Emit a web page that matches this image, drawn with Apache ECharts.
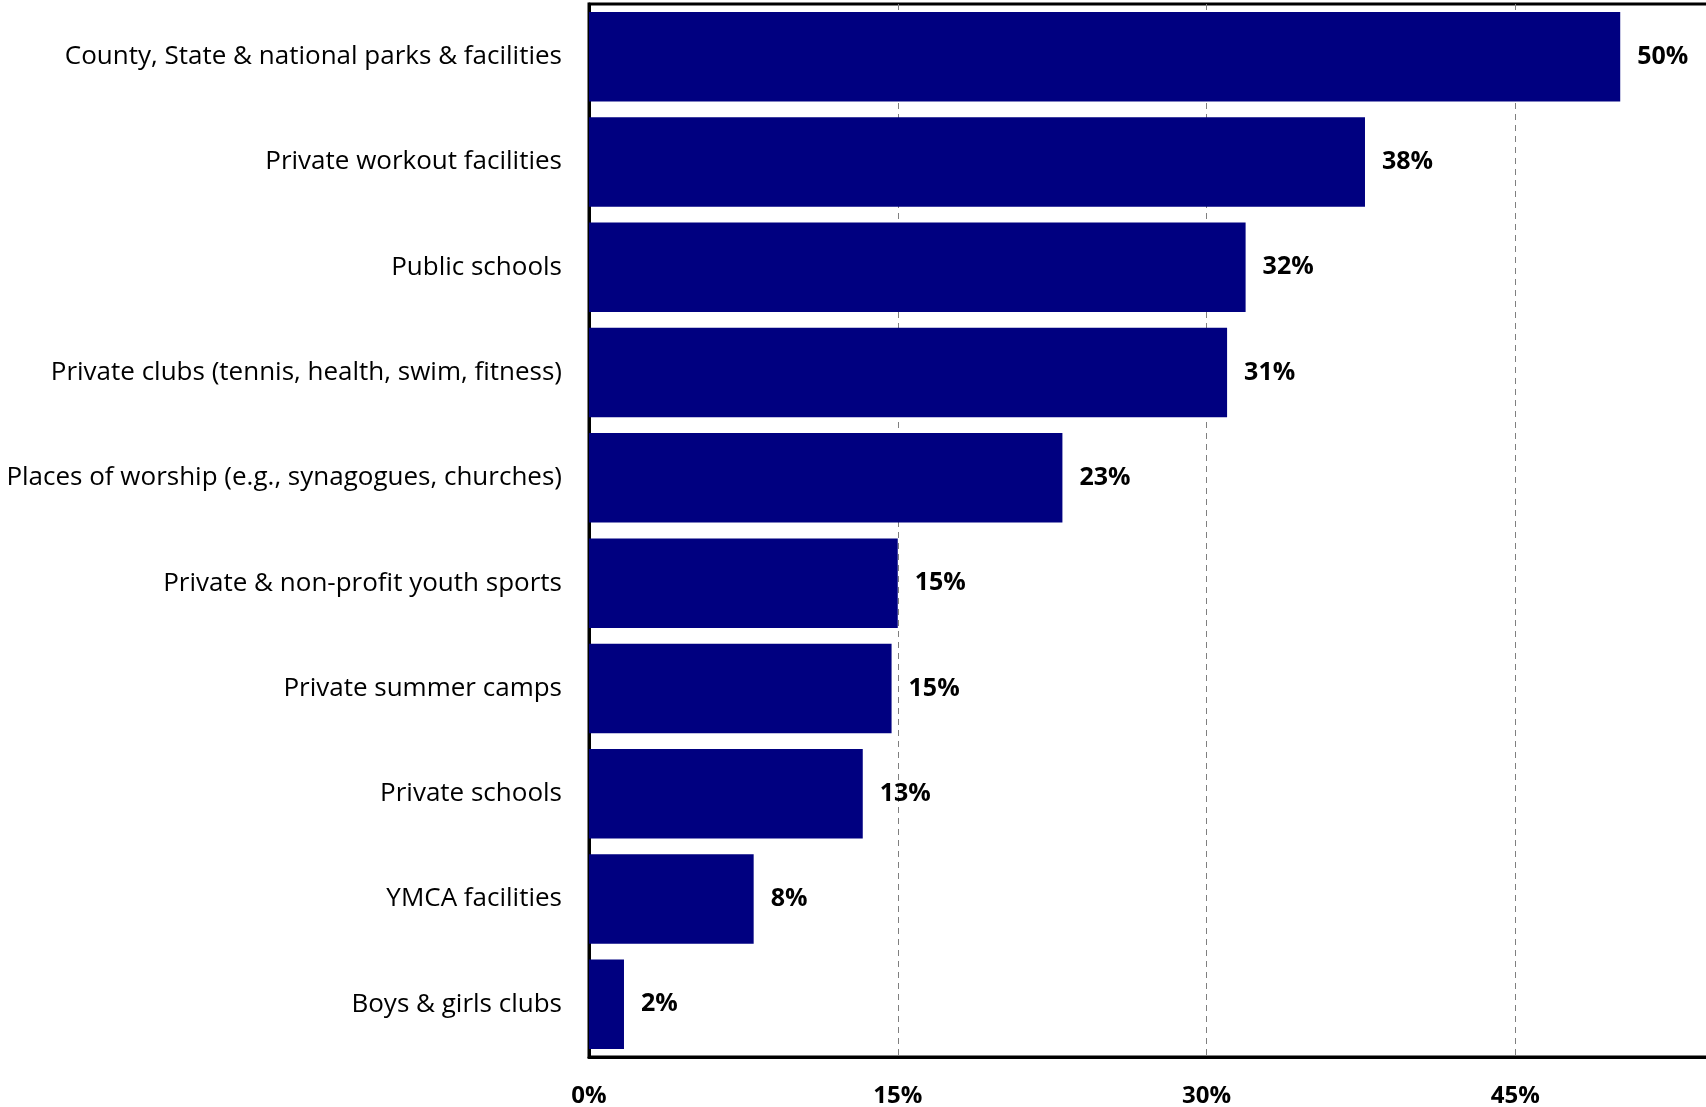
<!DOCTYPE html>
<html><head><meta charset="utf-8">
<script src="https://cdn.jsdelivr.net/npm/echarts@6/dist/echarts.min.js"></script>
<style>html,body{margin:0;padding:0;background:#fff;overflow:hidden}#c{width:1706px;height:1107px}</style>
</head><body><div id="c"></div>
<script>
const categories = [
  "County, State & national parks & facilities",
  "Private workout facilities",
  "Public schools",
  "Private clubs (tennis, health, swim, fitness)",
  "Places of worship (e.g., synagogues, churches)",
  "Private & non-profit youth sports",
  "Private summer camps",
  "Private schools",
  "YMCA facilities",
  "Boys & girls clubs"
];
const values = [50.1, 37.7, 31.9, 31.0, 23.0, 15.0, 14.7, 13.3, 8.0, 1.7];
const xTicks = [0, 15, 30, 45, 60];

const FONT = "Open Sans";
const chart = echarts.init(document.getElementById('c'));
chart.setOption({
  animation: false,
  backgroundColor: '#fff',
  grid: {left: 589, top: 4, right: -118, bottom: 50, show: true, borderColor: '#000', borderWidth: 3,
    containLabel: false, outerBoundsMode: 'none'},
  xAxis: {
    type: 'value', min: xTicks[0], max: xTicks[xTicks.length - 1], interval: 15,
    axisLine: {show: true, lineStyle: {color: '#000', width: 3}},
    axisTick: {show: false},
    splitLine: {show: true, lineStyle: {color: '#7f7f7f', type: [6, 5], width: 1}},
    axisLabel: {formatter: '{value}%', fontFamily: FONT, fontSize: 24, fontWeight: 'bold', color: '#000', margin: 27}
  },
  yAxis: {
    type: 'category', data: categories, inverse: true,
    axisLine: {show: true, lineStyle: {color: '#000', width: 3}},
    axisTick: {show: false},
    splitLine: {show: false},
    axisLabel: {fontFamily: FONT, fontSize: 26, color: '#000', margin: 27, padding: [6, 0, 0, 0]}
  },
  series: [{
    type: 'bar', data: values, barCategoryGap: '15%',
    itemStyle: {color: '#000080'},
    label: {show: true, position: 'right', distance: 17, fontFamily: FONT, fontSize: 25, fontWeight: 'bold', color: '#000',
      padding: [6, 0, 0, 0],
      formatter: p => Math.round(p.value) + '%'}
  }]
});
</script></body></html>
